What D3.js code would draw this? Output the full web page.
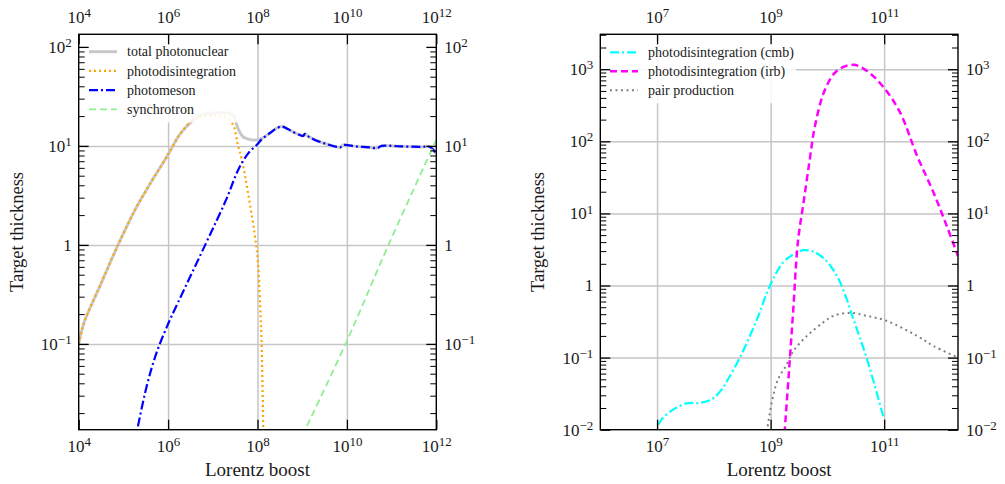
<!DOCTYPE html>
<html><head><meta charset="utf-8">
<script src="https://cdn.jsdelivr.net/npm/d3@7"></script>
<style>
body{margin:0;background:#fff}
svg{display:block}
text{font-family:"Liberation Serif","Times New Roman",serif;fill:#1a1a1a}
</style>
</head><body>
<svg id="c" width="1005" height="484"></svg>
<script>
// ---------------- DATA ----------------
// Left panel
const totalGamma = [1e4,1.12e4,1.38e4,3.16e4,7.59e4,1.82e5,3.98e5,8.51e5,1.10e6,1.86e6,3.63e6,5.13e6,8.71e6,2.04e7,2.88e7,3.39e7,3.98e7,4.79e7,6.31e7,7.41e7,9.55e7,1.26e8,1.91e8,2.51e8,3.47e8,4.79e8,6.31e8,8.91e8,1.05e9,1.15e9,1.32e9,1.78e9,2.95e9,5.89e9,7.08e9,8.32e9,1.58e10,3.16e10,4.68e10,6.03e10,1.58e11,4.37e11,7.24e11,9.33e11,1e12];
const totalT     = [0.10,0.126,0.174,0.407,1.0,2.26,4.17,7.24,8.81,13.2,18.2,20.4,21.4,21.6,20.4,16.6,13.8,12.3,11.7,11.5,11.5,11.9,13.5,14.8,15.7,14.8,13.8,12.9,12.6,13.2,12.6,11.7,10.7,9.77,9.66,10.2,9.89,9.66,9.48,10.0,9.89,9.77,9.77,8.71,8.51];

const pdGamma = [1e4,1.12e4,1.38e4,3.16e4,7.59e4,1.82e5,3.98e5,8.51e5,1.10e6,1.86e6,3.63e6,8.71e6,1.41e7,2.04e7,2.88e7,3.55e7,4.47e7,6.17e7,9.33e7,1.05e8,1.17e8,1.23e8,1.29e8,1.35e8,1.38e8];
const pdT     = [0.10,0.126,0.174,0.407,1.0,2.26,4.17,7.24,8.81,13.2,18.2,20.4,20.0,19.1,16.2,10.7,7.24,3.31,1.0,0.562,0.191,0.110,0.0398,0.0126,0.003];

const pmGamma = [1.78e5,3.31e5,5.50e5,9.33e5,1.20e6,6.76e6,2.0e7,3.72e7,6.31e7,9.55e7,1.26e8,1.91e8,2.51e8,3.47e8,4.79e8,6.31e8,8.91e8,1.05e9,1.15e9,1.32e9,1.78e9,2.95e9,5.89e9,7.08e9,8.32e9,1.58e10,3.16e10,4.68e10,6.03e10,1.58e11,4.37e11,7.24e11,9.33e11,1e12];
const pmT     = [0.0100,0.0372,0.0813,0.148,0.191,1.0,2.88,5.75,8.51,10.2,11.7,13.5,14.8,15.7,14.8,13.8,12.9,12.6,13.2,12.6,11.7,10.7,9.77,9.66,10.2,9.89,9.66,9.48,10.0,9.89,9.77,9.77,8.71,8.51];

const syGamma = [1e9,1e10,8.51e10,1e12];
const syT     = [0.0118,0.107,1.0,11.5];

// Right panel
const cmbGamma = [1.05e7,1.26e7,1.95e7,3.31e7,5.62e7,9.12e7,1.38e8,1.78e8,2.88e8,5.75e8,9.77e8,1.66e9,2.51e9,3.80e9,5.62e9,9.12e9,1.48e10,2.19e10,2.88e10,4.90e10,9.77e10];
const cmbT     = [0.0117,0.0145,0.0191,0.0232,0.0236,0.0263,0.0363,0.0501,0.100,0.339,1.0,2.09,2.69,3.09,2.95,2.29,1.35,0.646,0.339,0.100,0.0148];

const irbGamma = [1.70e9,1.78e9,2.19e9,2.51e9,3.02e9,3.80e9,4.90e9,6.03e9,9.12e9,1.48e10,2.88e10,4.90e10,9.77e10,1.91e11,3.80e11,7.41e11,1.26e12,2.0e12];
const irbT     = [0.0063,0.0102,0.100,0.468,3.98,14.1,56.2,162,525,955,1150,955,562,251,63.1,19.5,6.76,2.57];

const ppGamma = [8.32e8,1.05e9,1.35e9,1.91e9,2.51e9,4.37e9,8.51e9,1.29e10,2.51e10,4.90e10,1.10e11,3.80e11,7.41e11,2.0e12];
const ppT     = [0.0079,0.024,0.0501,0.0794,0.123,0.200,0.309,0.380,0.417,0.380,0.324,0.200,0.145,0.100];

// Ticks
const leftXTicks  = [1e4,1e6,1e8,1e10,1e12];
const leftYTicks  = [0.1,1,10,100];
const leftYGrid   = [0.1,1,10];
const rightXTicks = [1e7,1e9,1e11];
const rightYTicks = [0.01,0.1,1,10,100,1000];
const rightYGrid  = [0.1,1,10,100,1000];

const xTitle = "Lorentz boost";
const yTitle = "Target thickness";

// ---------------- DRAW ----------------
const svg = d3.select("#c");

function supLabel(sel){
  sel.each(function(d){
    const e = Math.round(Math.log10(d));
    const t = d3.select(this);
    t.text(null);
    if(e===0){ t.text("1"); return; }
    t.append("tspan").text("10");
    t.append("tspan").attr("dy","-0.45em").attr("font-size","13px")
      .text(e<0 ? "\u2212"+(-e) : String(e));
  });
}

function panel(cfg, idx){
  const x = d3.scaleLog().domain(cfg.xDomain).range([cfg.x0,cfg.x1]);
  const y = d3.scaleLog().domain(cfg.yDomain).range([cfg.y1,cfg.y0]);
  const W = cfg.x1-cfg.x0, H = cfg.y1-cfg.y0;
  const g = svg.append("g");

  svg.append("defs").append("clipPath").attr("id","clip"+idx)
    .append("rect").attr("x",cfg.x0).attr("y",cfg.y0).attr("width",W).attr("height",H);

  // grid
  const inX = cfg.xTicks.filter(t=>t>cfg.xDomain[0]*1.001 && t<cfg.xDomain[1]*0.999);
  g.append("g").attr("transform",`translate(0,${cfg.y1})`)
    .call(d3.axisBottom(x).tickValues(inX).tickSize(-H).tickFormat(""))
    .call(s=>{s.select(".domain").remove(); s.selectAll("line").attr("stroke","#c6c6c6").attr("stroke-width",1.5);});
  g.append("g").attr("transform",`translate(${cfg.x0},0)`)
    .call(d3.axisLeft(y).tickValues(cfg.yGrid).tickSize(-W).tickFormat(""))
    .call(s=>{s.select(".domain").remove(); s.selectAll("line").attr("stroke","#c6c6c6").attr("stroke-width",1.5);});

  // curves
  const line = d3.line().x(d=>x(d[0])).y(d=>y(d[1])).curve(d3.curveCatmullRom.alpha(0.5));
  const cg = g.append("g").attr("clip-path",`url(#clip${idx})`);
  cfg.series.forEach(s=>{
    cg.append("path").datum(d3.zip(s.gx,s.ty))
      .attr("d",line).attr("fill","none")
      .attr("stroke",s.color).attr("stroke-width",s.width)
      .attr("stroke-dasharray",s.dash||null);
  });

  // legend
  const lg = g.append("g");
  lg.append("rect").attr("x",cfg.leg.x-6).attr("y",cfg.leg.y-12)
    .attr("width",cfg.leg.w).attr("height",cfg.series.filter(s=>s.label).length*cfg.leg.dy+6)
    .attr("fill","#fff").attr("opacity",0.85);
  cfg.series.filter(s=>s.label).forEach((s,i)=>{
    const yy = cfg.leg.y + i*cfg.leg.dy;
    lg.append("line").attr("x1",cfg.leg.x).attr("x2",cfg.leg.x+28).attr("y1",yy).attr("y2",yy)
      .attr("stroke",s.color).attr("stroke-width",s.width).attr("stroke-dasharray",s.dash||null);
    lg.append("text").attr("x",cfg.leg.x+38).attr("y",yy).attr("dy","0.33em")
      .attr("font-size","14px").text(s.label);
  });

  const tickStyle = s=>{ s.select(".domain").remove(); s.selectAll("line").attr("stroke","#000").attr("stroke-width",1.3); s.selectAll("text").attr("font-size","17px").attr("fill","#1a1a1a").attr("font-family",'"Liberation Serif",serif'); };
  const minorStyle = s=>{ s.select(".domain").remove(); s.selectAll("line").attr("stroke","#000").attr("stroke-width",1); };

  g.append("g").attr("transform",`translate(0,${cfg.y1})`)
    .call(d3.axisBottom(x).tickValues(cfg.xTicks).tickSizeInner(-10).tickSizeOuter(0).tickPadding(10))
    .call(tickStyle).call(s=>s.selectAll("text").call(supLabel));
  g.append("g").attr("transform",`translate(0,${cfg.y0})`)
    .call(d3.axisTop(x).tickValues(cfg.xTicks).tickSizeInner(-10).tickSizeOuter(0).tickPadding(11))
    .call(tickStyle).call(s=>s.selectAll("text").call(supLabel));
  g.append("g").attr("transform",`translate(${cfg.x0},0)`)
    .call(d3.axisLeft(y).tickValues(cfg.yTicks).tickSizeInner(-10).tickSizeOuter(0).tickPadding(7))
    .call(tickStyle).call(s=>s.selectAll("text").call(supLabel));
  g.append("g").attr("transform",`translate(${cfg.x1},0)`)
    .call(d3.axisRight(y).tickValues(cfg.yTicks).tickSizeInner(-10).tickSizeOuter(0).tickPadding(8))
    .call(tickStyle).call(s=>s.selectAll("text").call(supLabel));

  const minor = y.ticks().filter(v=>Math.abs(Math.log10(v)-Math.round(Math.log10(v)))>1e-6);
  g.append("g").attr("transform",`translate(${cfg.x0},0)`)
    .call(d3.axisLeft(y).tickValues(minor).tickSize(-6).tickFormat("")).call(minorStyle);
  g.append("g").attr("transform",`translate(${cfg.x1},0)`)
    .call(d3.axisRight(y).tickValues(minor).tickSize(-6).tickFormat("")).call(minorStyle);

  g.append("rect").attr("x",cfg.x0).attr("y",cfg.y0).attr("width",W).attr("height",H)
    .attr("fill","none").attr("stroke","#000").attr("stroke-width",1.4);

  g.append("text").attr("x",(cfg.x0+cfg.x1)/2).attr("y",476).attr("text-anchor","middle")
    .attr("font-size","19px").text(xTitle);
  g.append("text").attr("transform",`translate(${cfg.yTitleX},${(cfg.y0+cfg.y1)/2}) rotate(-90)`)
    .attr("text-anchor","middle").attr("font-size","18.5px").text(yTitle);
}

panel({
  x0:78.7, x1:436.3, y0:34.3, y1:429.7,
  xDomain:[1e4,1e12], yDomain:[0.0136,134],
  xTicks:leftXTicks, yTicks:leftYTicks, yGrid:leftYGrid,
  yTitleX:23,
  leg:{x:89, y:51.7, dy:19.2, w:170},
  series:[
    {gx:totalGamma, ty:totalT, color:"#c8c8c8", width:3, label:"total photonuclear"},
    {gx:pdGamma, ty:pdT, color:"#ffa500", width:2.2, dash:"2,3", label:"photodisintegration"},
    {gx:pmGamma, ty:pmT, color:"#0000ff", width:2.2, dash:"9,3,2,3", label:"photomeson"},
    {gx:syGamma, ty:syT, color:"#90ee90", width:1.8, dash:"7,4", label:"synchrotron"}
  ]
},0);

panel({
  x0:600.3, x1:958, y0:34.3, y1:429.7,
  xDomain:[1e6,2e12], yDomain:[0.01,3050],
  xTicks:rightXTicks, yTicks:rightYTicks, yGrid:rightYGrid,
  yTitleX:544,
  leg:{x:610, y:52.3, dy:19, w:192},
  series:[
    {gx:cmbGamma, ty:cmbT, color:"#00ffff", width:2.2, dash:"9,3,2,3", label:"photodisintegration (cmb)"},
    {gx:irbGamma, ty:irbT, color:"#ff00ff", width:2.5, dash:"7,4", label:"photodisintegration (irb)"},
    {gx:ppGamma, ty:ppT, color:"#808080", width:2, dash:"2,3.5", label:"pair production"}
  ]
},1);
</script>
</body></html>
